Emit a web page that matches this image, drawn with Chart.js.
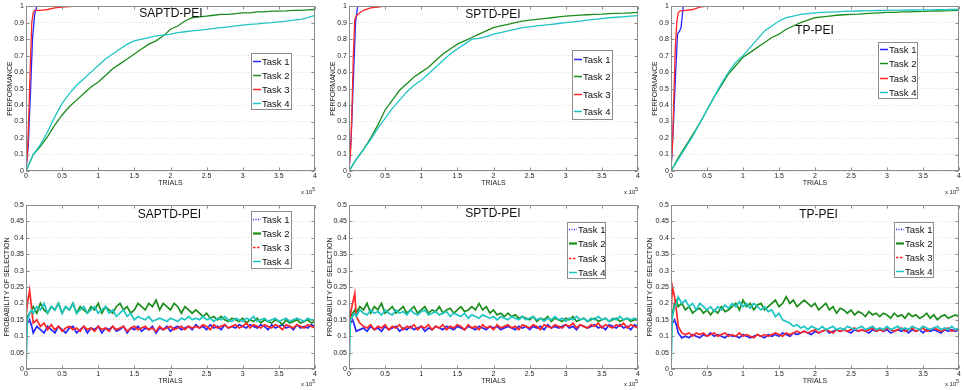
<!DOCTYPE html>
<html lang="en">
<head>
<meta charset="UTF-8">
<title>Performance and probability of selection per task</title>
<script src="https://cdn.jsdelivr.net/npm/chart.js"></script>
<style>
  body { margin:0; background:#fff; }
  #wrap { position:relative; width:964px; height:390px; overflow:hidden; font-family:'Liberation Sans', Arial, sans-serif; color:#111; }
  canvas { position:absolute; }
  .ttl { position:absolute; font-size:12px; line-height:12px; white-space:nowrap; transform:translate(-50%,-50%); }
  .exp { position:absolute; font-size:6px; line-height:6px; white-space:nowrap; color:#222; }
  .exp sup { font-size:5px; vertical-align:3px; }
</style>
</head>
<body>
<div id="wrap"></div>
<script>
const taskNames = ['Task 1', 'Task 2', 'Task 3', 'Task 4'];
const methodNames = ['SAPTD-PEI', 'SPTD-PEI', 'TP-PEI'];

const xTickValues = [0, 0.5, 1, 1.5, 2, 2.5, 3, 3.5, 4];
const xTickLabels = ['0', '0.5', '1', '1.5', '2', '2.5', '3', '3.5', '4'];
const perfTickValues = [0, 0.1, 0.2, 0.3, 0.4, 0.5, 0.6, 0.7, 0.8, 0.9, 1];
const perfTickLabels = ['0', '0.1', '0.2', '0.3', '0.4', '0.5', '0.6', '0.7', '0.8', '0.9', '1'];
const probTickValues = [0, 0.05, 0.1, 0.15, 0.2, 0.25, 0.3, 0.35, 0.4, 0.45, 0.5];
const probTickLabels = ['0', '0.05', '0.1', '0.15', '0.2', '0.25', '0.3', '0.35', '0.4', '0.45', '0.5'];

// trials (x 10^5) for the slow performance curves
const trialsPerf = [0,0.1,0.2,0.3,0.4,0.5,0.6,0.7,0.8,0.9,1,1.1,1.2,1.3,1.4,1.5,1.6,1.7,1.8,1.9,2,
  2.1,2.2,2.3,2.4,2.5,2.6,2.7,2.8,2.9,3,3.1,3.2,3.3,3.4,3.5,3.6,3.7,3.8,3.9,4];

// SAPTD-PEI performance
const saptdPerfT1x = [0, 0.03, 0.06, 0.09, 0.12, 0.15, 4];
const saptdPerfT1 = [0, 0.15, 0.45, 0.8, 0.95, 1, 1];
const saptdPerfT3x = [0, 0.02, 0.04, 0.06, 0.08, 0.1, 0.12, 0.2, 0.3, 0.4, 0.5, 0.6, 0.7, 4];
const saptdPerfT3 = [0.02, 0.1, 0.35, 0.65, 0.9, 0.96, 0.975, 0.975, 0.98, 0.99, 0.995, 0.998, 1, 1];
const saptdPerfT2 = [0,0.1,0.15,0.21,0.28,0.34,0.39,0.43,0.47,0.51,0.54,0.58,0.62,0.65,0.68,0.71,0.74,0.77,0.79,0.82,0.86,
  0.88,0.91,0.93,0.935,0.94,0.945,0.95,0.95,0.955,0.96,0.96,0.965,0.965,0.97,0.97,0.972,0.975,0.975,0.978,0.98];
const saptdPerfT4 = [0,0.1,0.16,0.24,0.33,0.41,0.47,0.52,0.56,0.6,0.64,0.68,0.71,0.74,0.77,0.79,0.8,0.81,0.82,0.825,0.83,
  0.84,0.845,0.85,0.855,0.86,0.865,0.87,0.875,0.88,0.885,0.89,0.893,0.897,0.9,0.905,0.91,0.915,0.92,0.93,0.945];

// SPTD-PEI performance
const sptdPerfT1x = [0, 0.03, 0.06, 0.09, 0.12, 4];
const sptdPerfT1 = [0, 0.2, 0.55, 0.9, 1, 1];
const sptdPerfT3x = [0, 0.02, 0.04, 0.06, 0.08, 0.1, 0.15, 0.2, 0.3, 0.4, 0.5, 4];
const sptdPerfT3 = [0.02, 0.1, 0.35, 0.7, 0.92, 0.94, 0.96, 0.975, 0.99, 0.995, 1, 1];
const sptdPerfT2 = [0,0.07,0.13,0.2,0.28,0.37,0.43,0.49,0.53,0.57,0.6,0.63,0.67,0.71,0.74,0.77,0.79,0.81,0.83,0.85,0.87,
  0.88,0.89,0.9,0.91,0.915,0.92,0.925,0.93,0.935,0.94,0.943,0.946,0.948,0.95,0.952,0.955,0.957,0.958,0.96,0.962];
const sptdPerfT4 = [0,0.07,0.13,0.19,0.26,0.32,0.38,0.43,0.48,0.52,0.55,0.59,0.63,0.67,0.71,0.74,0.77,0.8,0.805,0.815,0.83,
  0.84,0.85,0.86,0.87,0.875,0.88,0.885,0.89,0.895,0.9,0.905,0.91,0.915,0.92,0.925,0.93,0.933,0.936,0.94,0.943];

// TP-PEI performance
const tpPerfT1x = [0, 0.03, 0.06, 0.09, 0.12, 0.14, 0.17, 4];
const tpPerfT1 = [0, 0.25, 0.55, 0.83, 0.85, 0.87, 1, 1];
const tpPerfT3x = [0, 0.02, 0.04, 0.06, 0.08, 0.1, 0.12, 0.2, 0.3, 0.4, 0.5, 4];
const tpPerfT3 = [0.02, 0.15, 0.45, 0.75, 0.9, 0.96, 0.97, 0.975, 0.98, 0.995, 1, 1];
const tpPerfT2 = [0,0.08,0.15,0.22,0.29,0.37,0.45,0.52,0.59,0.64,0.69,0.72,0.75,0.78,0.81,0.83,0.86,0.88,0.9,0.915,0.93,
  0.935,0.94,0.945,0.948,0.95,0.952,0.955,0.958,0.96,0.962,0.963,0.965,0.966,0.967,0.968,0.97,0.971,0.972,0.973,0.975];
const tpPerfT4 = [0,0.07,0.14,0.21,0.29,0.37,0.45,0.53,0.6,0.66,0.7,0.75,0.8,0.85,0.88,0.91,0.93,0.94,0.95,0.955,0.96,
  0.962,0.964,0.966,0.968,0.97,0.971,0.972,0.973,0.974,0.975,0.976,0.976,0.977,0.977,0.978,0.978,0.979,0.979,0.98,0.98];

// trials (x 10^5) for the probability of selection curves
const trialsSel = [0,0.02,0.05,0.08,0.1,0.15,0.2,0.25,0.3,0.35,0.4,0.45,0.5,0.55,0.6,0.65,0.7,0.75,0.8,0.85,0.9,0.95,
  1,1.05,1.1,1.15,1.2,1.25,1.3,1.35,1.4,1.45,1.5,1.55,1.6,1.65,1.7,1.75,1.8,1.85,1.9,1.95,
  2,2.05,2.1,2.15,2.2,2.25,2.3,2.35,2.4,2.45,2.5,2.55,2.6,2.65,2.7,2.75,2.8,2.85,2.9,2.95,
  3,3.05,3.1,3.15,3.2,3.25,3.3,3.35,3.4,3.45,3.5,3.55,3.6,3.65,3.7,3.75,3.8,3.85,3.9,3.95,4];

// SAPTD-PEI probability of selection
const saptdSelT1 = [.12,.14,.15,.13,.11,.13,.12,.11,.13,.12, .11,.13,.12,.11,.125,.13,.11,.12,.13,.11,
  .125,.12,.13,.11,.125,.12,.13,.115,.12,.13, .11,.125,.12,.13,.115,.125,.12,.13,.11,.125,
  .12,.13,.115,.125,.13,.12,.125,.13,.12,.135, .125,.13,.12,.135,.125,.13,.12,.135,.125,.13,
  .125,.135,.13,.125,.135,.13,.125,.135,.13,.12, .135,.125,.13,.135,.125,.13,.12,.135,.125,.13, .125,.135,.13];
const saptdSelT2 = [.15,.16,.17,.18,.19,.17,.2,.18,.17,.19, .18,.2,.17,.19,.18,.2,.17,.19,.18,.17,
  .19,.18,.2,.17,.19,.18,.17,.19,.2,.18, .19,.17,.18,.2,.19,.18,.2,.19,.21,.18,
  .2,.19,.18,.2,.19,.17,.19,.18,.17,.18, .17,.16,.17,.155,.16,.15,.16,.15,.145,.155,
  .15,.145,.155,.14,.15,.145,.155,.14,.15,.145, .14,.15,.145,.135,.15,.14,.145,.15,.14,.145, .15,.14,.145];
const saptdSelT3 = [.16,.2,.24,.18,.14,.15,.13,.14,.12,.135, .12,.13,.115,.125,.13,.12,.125,.115,.13,.12,
  .125,.115,.13,.12,.125,.115,.13,.12,.125,.13, .115,.125,.13,.12,.125,.13,.12,.125,.115,.13,
  .12,.125,.13,.12,.125,.13,.12,.13,.125,.13, .125,.135,.13,.12,.135,.125,.13,.135,.125,.13,
  .135,.125,.13,.14,.125,.135,.13,.125,.135,.13, .125,.135,.13,.12,.135,.13,.125,.135,.13,.125, .135,.13,.125];
const saptdSelT4 = [0,.15,.17,.18,.17,.19,.18,.2,.17,.19, .18,.2,.17,.19,.18,.2,.17,.18,.19,.17,
  .18,.19,.17,.18,.19,.17,.18,.16,.17,.18, .16,.17,.15,.16,.155,.15,.16,.145,.15,.155,
  .15,.145,.155,.15,.145,.155,.15,.16,.15,.155, .15,.16,.15,.155,.145,.155,.15,.16,.15,.145,
  .155,.15,.145,.155,.15,.16,.145,.15,.155,.145, .15,.155,.145,.15,.155,.145,.15,.155,.15,.145, .155,.15,.15];

// SPTD-PEI probability of selection
const sptdSelT1 = [.13,.14,.15,.13,.115,.12,.125,.115,.13,.12, .125,.115,.13,.12,.125,.13,.115,.125,.12,.13,
  .12,.125,.13,.115,.125,.12,.13,.125,.12,.13, .125,.12,.13,.125,.12,.13,.125,.12,.13,.125,
  .12,.13,.125,.13,.12,.125,.13,.125,.12,.13, .125,.13,.12,.13,.125,.13,.12,.135,.125,.13,
  .125,.13,.135,.125,.13,.12,.135,.13,.125,.13, .135,.125,.13,.12,.135,.13,.125,.135,.125,.13, .12,.135,.13];
const sptdSelT2 = [.14,.16,.17,.18,.17,.19,.18,.2,.17,.19, .18,.2,.17,.18,.19,.17,.18,.19,.17,.18,
  .19,.17,.18,.19,.17,.18,.175,.19,.17,.18, .185,.17,.18,.19,.175,.18,.19,.18,.2,.18,
  .19,.17,.18,.165,.17,.16,.17,.16,.165,.155, .16,.155,.15,.16,.145,.155,.15,.16,.145,.155,
  .15,.145,.155,.15,.16,.145,.15,.155,.145,.15, .155,.145,.15,.155,.145,.15,.155,.145,.15,.155, .145,.15,.15];
const sptdSelT3 = [.14,.17,.2,.23,.16,.14,.13,.125,.135,.12, .13,.125,.135,.12,.13,.125,.135,.12,.13,.125,
  .135,.12,.13,.125,.135,.12,.13,.125,.135,.12, .13,.125,.135,.13,.12,.135,.125,.13,.12,.135,
  .125,.13,.12,.135,.125,.13,.135,.125,.13,.12, .135,.13,.125,.135,.13,.12,.135,.13,.125,.135,
  .13,.125,.135,.13,.14,.125,.135,.13,.125,.135, .13,.14,.125,.135,.13,.125,.135,.13,.14,.125, .135,.13,.125];
const sptdSelT4 = [0,.15,.16,.17,.16,.18,.17,.165,.18,.17, .175,.165,.18,.17,.165,.18,.17,.175,.165,.18,
  .17,.165,.175,.18,.165,.17,.175,.165,.17,.175, .16,.17,.165,.16,.17,.155,.165,.16,.155,.165,
  .16,.155,.16,.15,.16,.155,.15,.16,.155,.15, .16,.15,.155,.16,.15,.155,.145,.155,.15,.16,
  .15,.155,.145,.155,.15,.16,.15,.155,.145,.155, .15,.16,.15,.155,.145,.155,.15,.16,.15,.155, .15,.155,.15];

// TP-PEI probability of selection
const tpSelT1 = [.12,.14,.15,.13,.11,.095,.1,.095,.105,.1, .095,.105,.1,.11,.1,.105,.1,.095,.105,.1,
  .1,.095,.105,.1,.095,.1,.105,.1,.095,.105, .1,.105,.1,.11,.105,.1,.11,.105,.11,.115,
  .11,.105,.115,.11,.115,.12,.11,.115,.12,.115, .12,.115,.11,.12,.115,.12,.115,.11,.12,.115,
  .12,.115,.12,.11,.115,.12,.115,.12,.11,.12, .115,.12,.11,.12,.115,.12,.115,.11,.12,.115, .12,.115,.12];
const tpSelT2 = [.13,.17,.2,.21,.19,.2,.18,.19,.17,.18, .185,.17,.18,.165,.18,.17,.19,.175,.18,.19,
  .2,.18,.21,.19,.2,.18,.195,.2,.18,.19, .2,.21,.19,.2,.22,.2,.21,.19,.2,.21,
  .2,.19,.2,.18,.19,.2,.18,.19,.17,.185, .18,.17,.18,.165,.175,.17,.16,.175,.165,.17,
  .16,.17,.165,.155,.17,.16,.165,.155,.17,.16, .165,.155,.16,.17,.155,.165,.15,.16,.165,.155, .16,.165,.16];
const tpSelT3 = [.17,.25,.22,.17,.13,.11,.105,.11,.1,.11, .105,.11,.1,.105,.11,.1,.105,.11,.1,.105,
  .1,.11,.1,.105,.1,.095,.105,.1,.105,.1, .105,.11,.105,.1,.11,.105,.11,.115,.11,.115,
  .11,.115,.12,.11,.115,.12,.115,.11,.12,.115, .12,.115,.12,.125,.115,.12,.115,.12,.125,.115,
  .12,.115,.125,.12,.115,.12,.125,.115,.12,.125, .115,.12,.125,.115,.12,.125,.12,.115,.12,.125, .115,.12,.12];
const tpSelT4 = [0,.16,.19,.2,.22,.2,.21,.19,.2,.18, .2,.19,.18,.19,.175,.19,.18,.195,.185,.2,
  .19,.205,.19,.2,.185,.2,.19,.18,.19,.175, .18,.16,.17,.15,.145,.14,.13,.135,.125,.13,
  .12,.13,.125,.12,.13,.12,.125,.13,.12,.125, .12,.13,.125,.12,.125,.13,.12,.125,.13,.12,
  .125,.12,.13,.12,.125,.13,.12,.125,.12,.13, .125,.12,.13,.125,.12,.125,.13,.12,.125,.12, .13,.12,.125];

const taskColors = ['#2626ff', '#1c8c1c', '#ff2626', '#1fc4c4'];

const perfSeries = [
  [[saptdPerfT1x, saptdPerfT1], [trialsPerf, saptdPerfT2], [saptdPerfT3x, saptdPerfT3], [trialsPerf, saptdPerfT4]],
  [[sptdPerfT1x, sptdPerfT1], [trialsPerf, sptdPerfT2], [sptdPerfT3x, sptdPerfT3], [trialsPerf, sptdPerfT4]],
  [[tpPerfT1x, tpPerfT1], [trialsPerf, tpPerfT2], [tpPerfT3x, tpPerfT3], [trialsPerf, tpPerfT4]]
];
const selSeries = [
  [saptdSelT1, saptdSelT2, saptdSelT3, saptdSelT4],
  [sptdSelT1, sptdSelT2, sptdSelT3, sptdSelT4],
  [tpSelT1, tpSelT2, tpSelT3, tpSelT4]
];

// layout: canvas boxes and plot areas
const cols = [
  { left: 0, plotL: 26, plotR: 315 },
  { left: 322, plotL: 349, plotR: 638 },
  { left: 644, plotL: 671, plotR: 959 }
];
const rows = [
  { top: 0, h: 195, plotT: 5, plotB: 171, yTitleX: [10, 11.5, 11], xTitleOff: 12.3, expTop: 186 },
  { top: 195, h: 195, plotT: 205, plotB: 369, yTitleX: [7, 8, 6], xTitleOff: 9.3, expTop: 378 }
];
const titlePos = [
  [[171, 12.5], [493, 14], [814.5, 30]],
  [[169.5, 213.5], [493, 213], [818.5, 213.5]]
];
const legendPos = [
  [{ x: 251, y: 53, w: 41, rh: 14, h: 57 }, { x: 572, y: 50, w: 41, rh: 17.3, h: 70 }, { x: 878, y: 42, w: 40, rh: 14.2, h: 57 }],
  [{ x: 251, y: 211, w: 41, rh: 14.3, h: 58 }, { x: 567, y: 222, w: 39, rh: 14.1, h: 57 }, { x: 894, y: 222, w: 40, rh: 14, h: 56 }]
];

const boxPlugin = {
  id: 'box',
  afterDraw(chart) {
    const { ctx, chartArea: a, scales } = chart;
    const l = Math.round(a.left) + 0.5, t = Math.round(a.top) + 0.5;
    const r = Math.round(a.right) - 0.5, b = Math.round(a.bottom) - 0.5;
    ctx.save();
    ctx.strokeStyle = '#8c8c8c';
    ctx.lineWidth = 1;
    ctx.strokeRect(l, t, r - l, b - t);
    ctx.beginPath();
    xTickValues.forEach(v => {
      const x = Math.round(scales.x.getPixelForValue(v)) + 0.5;
      ctx.moveTo(x, b); ctx.lineTo(x, b - 3);
      ctx.moveTo(x, t); ctx.lineTo(x, t + 3);
    });
    scales.y.ticks.forEach(tk => {
      const y = Math.round(scales.y.getPixelForValue(tk.value)) + 0.5;
      ctx.moveTo(l, y); ctx.lineTo(l + 3, y);
      ctx.moveTo(r, y); ctx.lineTo(r - 3, y);
    });
    ctx.stroke();
    ctx.restore();
  }
};

// boxed legend inside the plot, MATLAB style
const innerLegend = {
  id: 'innerLegend',
  afterDraw(chart, args, opts) {
    const { ctx } = chart;
    const p = opts.box;
    ctx.save();
    ctx.fillStyle = '#fff';
    ctx.fillRect(p.x, p.y, p.w, p.h);
    ctx.strokeStyle = '#8c8c8c';
    ctx.lineWidth = 1;
    ctx.setLineDash([]);
    ctx.strokeRect(p.x + 0.5, p.y + 0.5, p.w - 1, p.h - 1);
    ctx.font = "9.5px 'Liberation Sans', Arial, sans-serif";
    ctx.textBaseline = 'middle';
    chart.data.datasets.forEach((ds, k) => {
      const cy = Math.round(p.y + p.h / 2 + (k - 1.5) * p.rh) + 0.5;
      const st = opts.styles[k];
      ctx.strokeStyle = ds.borderColor;
      ctx.lineWidth = st.w;
      ctx.setLineDash(st.dash);
      ctx.beginPath();
      ctx.moveTo(p.x + 2, cy);
      ctx.lineTo(p.x + 10, cy);
      ctx.stroke();
      ctx.setLineDash([]);
      ctx.fillStyle = '#111';
      ctx.fillText(ds.label, p.x + 11, cy + 0.5);
    });
    ctx.restore();
  }
};

const wrap = document.getElementById('wrap');

function makePanel(ri, ci) {
  const row = rows[ri], col = cols[ci];
  const w = col.plotR + 5 - col.left;
  const cv = document.createElement('canvas');
  cv.width = w; cv.height = row.h;
  cv.style.left = col.left + 'px'; cv.style.top = row.top + 'px';
  wrap.appendChild(cv);

  const isPerf = ri === 0;
  const yVals = isPerf ? perfTickValues : probTickValues;
  const yLabels = isPerf ? perfTickLabels : probTickLabels;
  const datasets = taskNames.map((name, k) => {
    const xs = isPerf ? perfSeries[ci][k][0] : trialsSel;
    const ys = isPerf ? perfSeries[ci][k][1] : selSeries[ci][k];
    return {
      label: name,
      data: xs.map((x, i) => ({ x: x, y: ys[i] })),
      borderColor: taskColors[k],
      backgroundColor: taskColors[k],
      borderWidth: isPerf ? 1.3 : 1.7,
      pointRadius: 0,
      tension: 0,
      order: 4 - k
    };
  });

  const lp = legendPos[ri][ci];
  const legendStyles = isPerf
    ? [{ w: 1.5, dash: [] }, { w: 1.5, dash: [] }, { w: 1.5, dash: [] }, { w: 1.5, dash: [] }]
    : [{ w: 1.5, dash: [1, 1.5] }, { w: 2.2, dash: [] }, { w: 1.3, dash: [2.5, 1.5] }, { w: 1.5, dash: [] }];

  const tickFont = { family: "'Liberation Sans', Arial, sans-serif", size: 7 };
  new Chart(cv, {
    type: 'line',
    data: { datasets },
    options: {
      responsive: false,
      animation: false,
      events: [],
      layout: { padding: { top: row.plotT - row.top, right: 5, left: 0, bottom: 0 } },
      plugins: {
        legend: { display: false },
        tooltip: { enabled: false },
        innerLegend: { box: { x: lp.x - col.left, y: lp.y - row.top, w: lp.w, h: lp.h, rh: lp.rh }, styles: legendStyles }
      },
      scales: {
        x: {
          type: 'linear', min: 0, max: 4,
          afterBuildTicks: s => { s.ticks = xTickValues.map(v => ({ value: v })); },
          afterFit: s => { s.height = row.top + row.h - row.plotB; },
          ticks: { font: tickFont, color: '#222', padding: 1, maxRotation: 0, autoSkip: false,
                   callback: (v, i) => xTickLabels[i] },
          grid: { display: false, drawTicks: false },
          border: { display: false },
          title: { display: true, text: 'TRIALS', font: tickFont, color: '#222',
                   padding: { top: 0, bottom: row.xTitleOff - 4.2 } }
        },
        y: {
          min: 0, max: isPerf ? 1 : 0.5,
          afterBuildTicks: s => { s.ticks = yVals.map(v => ({ value: v })); },
          afterFit: s => { s.width = col.plotL - col.left; },
          ticks: { font: tickFont, color: '#222', padding: 2, autoSkip: false,
                   callback: (v, i) => yLabels[i] },
          grid: { color: '#dcdcdc', drawTicks: false, lineWidth: 1 },
          border: { display: false, dash: [1, 2] },
          title: { display: true, text: isPerf ? 'PERFORMANCE' : 'PROBABILITY OF SELECTION', font: tickFont, color: '#222',
                   padding: { top: row.yTitleX[ci] - 4.2, bottom: 0 } }
        }
      }
    },
    plugins: [boxPlugin, innerLegend]
  });

  // subplot title
  const t = document.createElement('div');
  t.className = 'ttl';
  t.textContent = methodNames[ci];
  t.style.left = titlePos[ri][ci][0] + 'px';
  t.style.top = titlePos[ri][ci][1] + 'px';
  wrap.appendChild(t);

  // x 10^5 multiplier
  const e = document.createElement('div');
  e.className = 'exp';
  e.innerHTML = 'x 10<sup>5</sup>';
  e.style.right = (964 - col.plotR) + 'px';
  e.style.top = row.expTop + 'px';
  wrap.appendChild(e);
}

for (let r = 0; r < 2; r++) for (let c = 0; c < 3; c++) makePanel(r, c);
</script>
</body>
</html>
